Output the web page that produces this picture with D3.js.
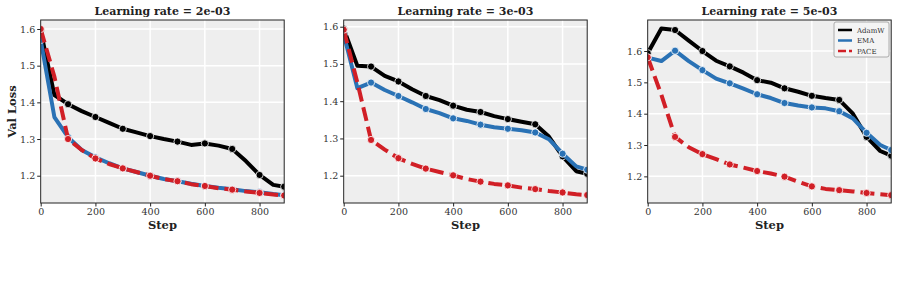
<!DOCTYPE html>
<html lang="en">
<head>
    <meta charset="UTF-8">
    <title>Val loss vs step</title>
    <script src="https://d3js.org/d3.v7.min.js"></script>
    <style>
        * { margin: 0; padding: 0; }
        body { background: #fff; }
        text { font-family: "DejaVu Serif", serif; }
    </style>
</head>
<body>
<script>
    var width = 899, height = 296;

    var steps = [0, 50, 100, 150, 200, 250, 300, 350, 400, 450, 500, 550, 600, 650, 700, 750, 800, 850, 890];
    var titles = ['Learning rate = 2e-03', 'Learning rate = 3e-03', 'Learning rate = 5e-03'];
    var seriesNames = ['AdamW', 'EMA', 'PACE'];

    // lr = 2e-3
    var adamw1 = [1.595, 1.42, 1.395, 1.376, 1.360, 1.344, 1.328, 1.318, 1.308, 1.300, 1.293, 1.284, 1.288, 1.282, 1.273, 1.240, 1.202, 1.175, 1.170];
    var ema1 = [1.570, 1.360, 1.305, 1.270, 1.250, 1.234, 1.220, 1.210, 1.200, 1.191, 1.185, 1.178, 1.172, 1.167, 1.163, 1.158, 1.155, 1.150, 1.147];
    var pace1 = [1.600, 1.470, 1.300, 1.270, 1.247, 1.232, 1.220, 1.210, 1.200, 1.191, 1.185, 1.177, 1.172, 1.166, 1.162, 1.157, 1.153, 1.149, 1.146];
    // lr = 3e-3
    var adamw2 = [1.595, 1.495, 1.493, 1.468, 1.453, 1.432, 1.414, 1.403, 1.388, 1.377, 1.371, 1.360, 1.352, 1.345, 1.338, 1.305, 1.252, 1.212, 1.205];
    var ema2 = [1.580, 1.435, 1.450, 1.430, 1.414, 1.397, 1.379, 1.368, 1.354, 1.347, 1.337, 1.330, 1.326, 1.322, 1.316, 1.298, 1.259, 1.225, 1.216];
    var pace2 = [1.592, 1.450, 1.296, 1.270, 1.247, 1.232, 1.219, 1.210, 1.201, 1.191, 1.184, 1.178, 1.174, 1.168, 1.164, 1.159, 1.155, 1.150, 1.148];
    // lr = 5e-3
    var adamw3 = [1.593, 1.672, 1.667, 1.633, 1.600, 1.569, 1.551, 1.531, 1.507, 1.499, 1.481, 1.470, 1.457, 1.450, 1.444, 1.400, 1.326, 1.281, 1.266];
    var ema3 = [1.579, 1.568, 1.601, 1.568, 1.539, 1.512, 1.497, 1.480, 1.462, 1.450, 1.434, 1.426, 1.420, 1.417, 1.408, 1.385, 1.339, 1.300, 1.284];
    var pace3 = [1.580, 1.460, 1.326, 1.293, 1.271, 1.255, 1.238, 1.228, 1.217, 1.209, 1.199, 1.183, 1.168, 1.160, 1.156, 1.152, 1.147, 1.143, 1.140];

    var yTicks = [1.2, 1.3, 1.4, 1.5, 1.6];
    var xTicks = [0, 200, 400, 600, 800];
    var markerSteps = [0, 100, 200, 300, 400, 500, 600, 700, 800, 890];

    var panels = [
        { title: titles[0], series: [adamw1, ema1, pace1], ylim: [1.1256, 1.6245] },
        { title: titles[1], series: [adamw2, ema2, pace2], ylim: [1.1267, 1.618] },
        { title: titles[2], series: [adamw3, ema3, pace3], ylim: [1.115, 1.699] }
    ];

    var colors = ['#000000', '#2a72b5', '#d11f26'];
    var dashes = [null, null, '14,6'];
    var lefts = [40.7, 343.7, 647.7];
    var plotW = 243.5, plotTop = 20, plotBottom = 203;

    var svg = d3.select('body').append('svg')
        .attr('width', width)
        .attr('height', height);

    panels.forEach(function (p, k) {
        var g = svg.append('g').attr('transform', 'translate(' + lefts[k] + ',0)');

        var x = d3.scaleLinear().domain([0, 890]).range([0, plotW]);
        var y = d3.scaleLinear().domain(p.ylim).range([plotBottom, plotTop]);

        var clipId = 'clip' + k;
        g.append('clipPath').attr('id', clipId)
            .append('rect').attr('x', 0).attr('y', plotTop).attr('width', plotW).attr('height', plotBottom - plotTop);

        g.append('rect')
            .attr('x', 0).attr('y', plotTop)
            .attr('width', plotW).attr('height', plotBottom - plotTop)
            .attr('fill', '#eeeeee');

        // grid
        g.selectAll('.gx').data(xTicks).enter().append('line')
            .attr('x1', function (d) { return x(d); }).attr('x2', function (d) { return x(d); })
            .attr('y1', plotTop).attr('y2', plotBottom)
            .attr('stroke', '#fff').attr('stroke-width', 1.5);
        g.selectAll('.gy').data(yTicks).enter().append('line')
            .attr('y1', function (d) { return y(d); }).attr('y2', function (d) { return y(d); })
            .attr('x1', 0).attr('x2', plotW)
            .attr('stroke', '#fff').attr('stroke-width', 1.5);

        var plot = g.append('g').attr('clip-path', 'url(#' + clipId + ')');
        var line = d3.line()
            .x(function (d, i) { return x(steps[i]); })
            .y(function (d) { return y(d); });

        p.series.forEach(function (vals, s) {
            plot.append('path')
                .datum(vals)
                .attr('d', line)
                .attr('fill', 'none')
                .attr('stroke', colors[s])
                .attr('stroke-width', 4)
                .attr('stroke-dasharray', dashes[s])
                .attr('stroke-linejoin', 'round');

            var pts = steps.map(function (st, i) { return [st, vals[i]]; })
                .filter(function (d) { return markerSteps.indexOf(d[0]) >= 0; });
            plot.selectAll('.m' + s).data(pts).enter().append('circle')
                .attr('cx', function (d) { return x(d[0]); })
                .attr('cy', function (d) { return y(d[1]); })
                .attr('r', 3.6)
                .attr('fill', colors[s])
                .attr('stroke', '#fff')
                .attr('stroke-width', 0.8);
        });

        // frame
        g.append('rect')
            .attr('x', 0).attr('y', plotTop)
            .attr('width', plotW).attr('height', plotBottom - plotTop)
            .attr('fill', 'none').attr('stroke', '#222').attr('stroke-width', 1);

        var xAxis = g.append('g')
            .attr('transform', 'translate(0,' + plotBottom + ')')
            .call(d3.axisBottom(x).tickValues(xTicks).tickSize(3.5).tickPadding(2).tickFormat(d3.format('d')));
        var yAxis = g.append('g')
            .call(d3.axisLeft(y).tickValues(yTicks).tickSize(3.5).tickPadding(2).tickFormat(d3.format('.1f')));
        [xAxis, yAxis].forEach(function (a) {
            a.select('.domain').remove();
            a.selectAll('line').attr('stroke', '#222');
            a.selectAll('text').attr('fill', '#333').style('font-size', '9.5px')
                .style('font-family', '"DejaVu Serif", serif');
        });

        g.append('text')
            .attr('x', plotW / 2).attr('y', 15)
            .attr('text-anchor', 'middle')
            .style('font-size', '11px').style('font-weight', 'bold')
            .attr('fill', '#222')
            .text(p.title);

        g.append('text')
            .attr('x', plotW / 2).attr('y', 229)
            .attr('text-anchor', 'middle')
            .style('font-size', '11.5px').style('font-weight', 'bold')
            .attr('fill', '#222')
            .text('Step');

        if (k === 0) {
            g.append('text')
                .attr('transform', 'translate(-25,' + ((plotTop + plotBottom) / 2) + ') rotate(-90)')
                .attr('text-anchor', 'middle')
                .style('font-size', '11.5px').style('font-weight', 'bold')
                .attr('fill', '#222')
                .text('Val Loss');
        }

        if (k === 2) {
            var lg = g.append('g').attr('transform', 'translate(' + (834 - lefts[k]) + ',22)');
            lg.append('rect')
                .attr('width', 55).attr('height', 35).attr('rx', 2)
                .attr('fill', '#f4f4f4').attr('stroke', '#999').attr('stroke-width', 0.8);
            seriesNames.forEach(function (name, s) {
                var yy = 8 + s * 10.5;
                lg.append('line')
                    .attr('x1', 4).attr('x2', 18).attr('y1', yy).attr('y2', yy)
                    .attr('stroke', colors[s]).attr('stroke-width', 2.5)
                    .attr('stroke-dasharray', s === 2 ? '8,3' : null);
                lg.append('text')
                    .attr('x', 23).attr('y', yy + 2.5)
                    .style('font-size', '7px')
                    .attr('fill', '#333')
                    .text(name);
            });
        }
    });
</script>
</body>
</html>
